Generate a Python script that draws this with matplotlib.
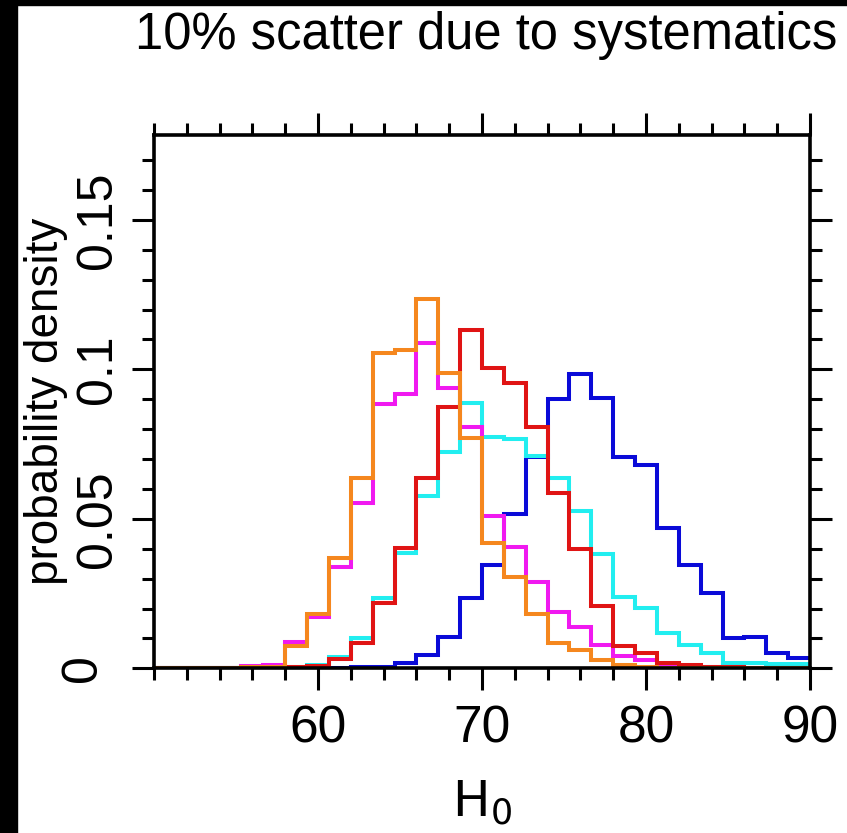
import numpy as np
import matplotlib
matplotlib.use("Agg")
import matplotlib.pyplot as plt
import matplotlib.transforms as mtransforms
from matplotlib.patches import Rectangle
from matplotlib.ticker import MultipleLocator, FixedLocator

plt.rcParams['font.family'] = ['Liberation Sans Narrow', 'Liberation Sans', 'DejaVu Sans']
plt.rcParams['mathtext.fontset'] = 'custom'
plt.rcParams['mathtext.rm'] = 'Liberation Sans Narrow'
plt.rcParams['mathtext.it'] = 'Liberation Sans Narrow'

# histogram bins: 30 bins of width 4/3 between H0 = 50 and 90
edges = np.linspace(50, 90, 31)

blue = [0, 0, 0, 0, 0, 0, 0, 0, 0, 0.0003, 0.0005, 0.0017, 0.0044, 0.0106, 0.0234,
        0.0345, 0.0515, 0.0708, 0.0900, 0.0984, 0.0905, 0.0708, 0.0680, 0.0468, 0.0345,
        0.0251, 0.0100, 0.0106, 0.0050, 0.0033]
cyan = [0, 0, 0, 0, 0, 0, 0.0003, 0.0010, 0.0039, 0.0100, 0.0234, 0.0387, 0.0576, 0.0724, 0.0887,
        0.0773, 0.0766, 0.0710, 0.0635, 0.0527, 0.0382, 0.0239, 0.0201, 0.0119, 0.0078,
        0.0052, 0.0019, 0.0019, 0.0016, 0.0014]
magenta = [0, 0, 0, 0, 0.0007, 0.0010, 0.0088, 0.0173, 0.0339, 0.0552, 0.0884, 0.0917, 0.1087, 0.0936, 0.0808,
           0.0510, 0.0407, 0.0290, 0.0189, 0.0139, 0.0078, 0.0041, 0.0028, 0.0012, 0.0008,
           0.0005, 0.0003, 0, 0, 0]
red = [0, 0, 0, 0, 0, 0, 0.0003, 0.0008, 0.0030, 0.0084, 0.0219, 0.0403, 0.0635, 0.0875, 0.1131,
       0.1003, 0.0955, 0.0806, 0.0587, 0.0399, 0.0208, 0.0075, 0.0050, 0.0017, 0.0011,
       0.0006, 0.0003, 0, 0, 0]
orange = [0, 0, 0, 0, 0.0003, 0.0005, 0.0076, 0.0181, 0.0370, 0.0637, 0.1056, 0.1065, 0.1237, 0.0989, 0.0769,
          0.0420, 0.0306, 0.0181, 0.0086, 0.0061, 0.0028, 0.0011, 0.0003, 0, 0,
          0, 0, 0, 0, 0]

series = [(blue, '#0a0ad8'), (cyan, '#22eef0'), (magenta, '#f019f0'),
          (red, '#e01414'), (orange, '#f5871e')]

xticks = [60, 70, 80, 90]
yticks = [0, 0.05, 0.1, 0.15]
ytick_labels = ['0', '0.05', '0.1', '0.15']

fig = plt.figure(figsize=(8.47, 8.33), dpi=100)
W, H = 847, 833
ax = fig.add_axes([154 / W, 1 - 668.3 / H, (810 - 154) / W, (668.3 - 135) / H])

for vals, col in series:
    ax.stairs(vals, edges, baseline=None, color=col, linewidth=2.9)

ax.set_xlim(50, 90)
ax.set_ylim(0, 0.1784)

ax.xaxis.set_major_locator(FixedLocator(xticks))
ax.xaxis.set_minor_locator(MultipleLocator(2))
ax.yaxis.set_major_locator(FixedLocator(yticks))
ax.yaxis.set_minor_locator(MultipleLocator(0.01))
ax.set_yticklabels(ytick_labels)

for s in ax.spines.values():
    s.set_linewidth(2.6)
ax.tick_params(which='both', direction='out', top=True, right=True, width=2.2, colors='black')
ax.tick_params(which='major', length=16)
ax.tick_params(which='minor', length=8.6)
ax.tick_params(axis='x', labelsize=37, pad=10)
ax.tick_params(axis='y', labelsize=36, pad=24)
for lab in ax.get_yticklabels():
    lab.set_rotation(90)
    lab.set_va('center')
    lab.set_ha('center')
    lab.set_family(['Liberation Sans', 'DejaVu Sans'])
# the zero label sits a little further out
zero = ax.get_yticklabels()[0]
zero.set_transform(zero.get_transform() + mtransforms.ScaledTranslation(-0.15, 0, fig.dpi_scale_trans))

ax.set_xlabel(r'$\mathrm{H_0}$', fontsize=36, labelpad=18)
ax.set_ylabel('probability density', fontsize=33,
              family=['Liberation Sans', 'DejaVu Sans'])
ax.yaxis.set_label_coords((68 - 154) / 656, 0.5)

fig.text(486 / W, 1 - 35 / H, '10% scatter due to systematics', fontsize=36.5,
         ha='center', va='center', family=['Liberation Sans', 'DejaVu Sans'])

# dark frame on the left and top edges
fig.patches.append(Rectangle((0, 0), 17 / W, 1, transform=fig.transFigure, color='black', zorder=10))
fig.patches.append(Rectangle((0, 1 - 5 / H), 1, 5 / H, transform=fig.transFigure, color='black', zorder=10))

fig.savefig('out.png', dpi=100)
